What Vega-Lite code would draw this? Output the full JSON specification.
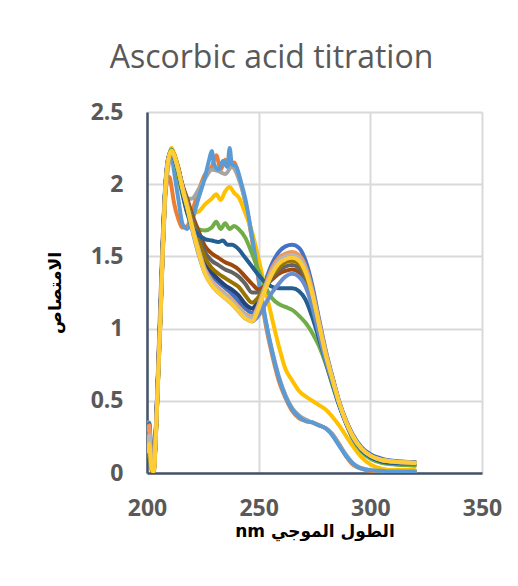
{
"$schema": "https://vega.github.io/schema/vega-lite/v6.json",
"width": 335, "height": 361,
"autosize": {"type": "none"},
"padding": {"left": 147, "top": 112, "right": 36, "bottom": 113},
"background": "white",
"title": {"text": "Ascorbic acid titration", "font": "Open Sans", "fontSize": 32, "fontWeight": "normal", "color": "#595959", "anchor": "middle", "frame": "group", "dx": -43, "baseline": "alphabetic", "offset": 1},
"config": {"view": {"stroke": null}},
"data": {"values": [
{"nm":200,"s":"1","a":0.2},{"nm":201,"s":"1","a":0.28},{"nm":202,"s":"1","a":0.06},{"nm":203,"s":"1","a":0.02},{"nm":204,"s":"1","a":0.28},{"nm":205,"s":"1","a":0.68},{"nm":206,"s":"1","a":1.08},{"nm":207,"s":"1","a":1.53},{"nm":208,"s":"1","a":1.9},{"nm":209,"s":"1","a":2.11},{"nm":210,"s":"1","a":2.2},{"nm":211,"s":"1","a":2.23},{"nm":212,"s":"1","a":2.2},
{"nm":214,"s":"1","a":2.1},{"nm":216,"s":"1","a":1.97},{"nm":218,"s":"1","a":1.86},{"nm":220,"s":"1","a":1.73},{"nm":223,"s":"1","a":1.57},{"nm":226,"s":"1","a":1.44},{"nm":229,"s":"1","a":1.37},{"nm":232,"s":"1","a":1.32},{"nm":235,"s":"1","a":1.28},{"nm":238,"s":"1","a":1.24},{"nm":241,"s":"1","a":1.19},{"nm":244,"s":"1","a":1.14},{"nm":247,"s":"1","a":1.11},{"nm":250,"s":"1","a":1.2},{"nm":253,"s":"1","a":1.33},{"nm":256,"s":"1","a":1.45},{"nm":259,"s":"1","a":1.53},{"nm":262,"s":"1","a":1.57},{"nm":265,"s":"1","a":1.58},{"nm":268,"s":"1","a":1.56},{"nm":271,"s":"1","a":1.47},{"nm":274,"s":"1","a":1.3},{"nm":277,"s":"1","a":1.07},{"nm":280,"s":"1","a":0.85},{"nm":283,"s":"1","a":0.67},{"nm":286,"s":"1","a":0.5},{"nm":289,"s":"1","a":0.37},{"nm":292,"s":"1","a":0.27},{"nm":296,"s":"1","a":0.18},{"nm":300,"s":"1","a":0.13},{"nm":305,"s":"1","a":0.1},{"nm":310,"s":"1","a":0.085},{"nm":320,"s":"1","a":0.075},

{"nm":200,"s":"2","a":0.35},{"nm":201,"s":"2","a":0.3},{"nm":202,"s":"2","a":0.05},{"nm":203,"s":"2","a":0.02},{"nm":204,"s":"2","a":0.32},{"nm":205,"s":"2","a":0.75},{"nm":206,"s":"2","a":1.2},{"nm":207,"s":"2","a":1.62},{"nm":208,"s":"2","a":1.9},{"nm":209,"s":"2","a":2.02},{"nm":210,"s":"2","a":2.05},{"nm":211,"s":"2","a":1.98},{"nm":212,"s":"2","a":1.88},
{"nm":214,"s":"2","a":1.76},{"nm":216,"s":"2","a":1.7},{"nm":218,"s":"2","a":1.71},{"nm":220,"s":"2","a":1.8},{"nm":223,"s":"2","a":1.95},{"nm":226,"s":"2","a":2.07},{"nm":229,"s":"2","a":2.12},{"nm":231,"s":"2","a":2.2},{"nm":233,"s":"2","a":2.1},{"nm":235,"s":"2","a":2.17},{"nm":237,"s":"2","a":2.12},{"nm":239,"s":"2","a":2.15},{"nm":241,"s":"2","a":2.06},{"nm":244,"s":"2","a":1.88},{"nm":247,"s":"2","a":1.62},{"nm":250,"s":"2","a":1.33},{"nm":253,"s":"2","a":1.04},{"nm":256,"s":"2","a":0.82},{"nm":259,"s":"2","a":0.64},{"nm":262,"s":"2","a":0.52},{"nm":265,"s":"2","a":0.43},{"nm":268,"s":"2","a":0.38},{"nm":271,"s":"2","a":0.36},{"nm":274,"s":"2","a":0.35},{"nm":277,"s":"2","a":0.33},{"nm":280,"s":"2","a":0.31},{"nm":283,"s":"2","a":0.27},{"nm":286,"s":"2","a":0.2},{"nm":289,"s":"2","a":0.12},{"nm":292,"s":"2","a":0.06},{"nm":296,"s":"2","a":0.03},{"nm":300,"s":"2","a":0.015},{"nm":305,"s":"2","a":0.01},{"nm":310,"s":"2","a":0.01},{"nm":320,"s":"2","a":0.01},

{"nm":200,"s":"3","a":0.3},{"nm":201,"s":"3","a":0.32},{"nm":202,"s":"3","a":0.08},{"nm":203,"s":"3","a":0.03},{"nm":204,"s":"3","a":0.28},{"nm":205,"s":"3","a":0.66},{"nm":206,"s":"3","a":1.04},{"nm":207,"s":"3","a":1.48},{"nm":208,"s":"3","a":1.85},{"nm":209,"s":"3","a":2.06},{"nm":210,"s":"3","a":2.16},{"nm":211,"s":"3","a":2.2},{"nm":212,"s":"3","a":2.19},
{"nm":214,"s":"3","a":2.12},{"nm":216,"s":"3","a":1.96},{"nm":218,"s":"3","a":1.9},{"nm":220,"s":"3","a":1.9},{"nm":223,"s":"3","a":1.96},{"nm":226,"s":"3","a":2.04},{"nm":229,"s":"3","a":2.1},{"nm":232,"s":"3","a":2.09},{"nm":235,"s":"3","a":2.07},{"nm":238,"s":"3","a":2.12},{"nm":241,"s":"3","a":2.04},{"nm":244,"s":"3","a":1.88},{"nm":247,"s":"3","a":1.63},{"nm":250,"s":"3","a":1.34},{"nm":253,"s":"3","a":1.06},{"nm":256,"s":"3","a":0.85},{"nm":259,"s":"3","a":0.67},{"nm":262,"s":"3","a":0.54},{"nm":265,"s":"3","a":0.45},{"nm":268,"s":"3","a":0.4},{"nm":271,"s":"3","a":0.37},{"nm":274,"s":"3","a":0.35},{"nm":277,"s":"3","a":0.33},{"nm":280,"s":"3","a":0.31},{"nm":283,"s":"3","a":0.27},{"nm":286,"s":"3","a":0.2},{"nm":289,"s":"3","a":0.13},{"nm":292,"s":"3","a":0.07},{"nm":296,"s":"3","a":0.035},{"nm":300,"s":"3","a":0.02},{"nm":305,"s":"3","a":0.015},{"nm":310,"s":"3","a":0.012},{"nm":320,"s":"3","a":0.012},

{"nm":200,"s":"4","a":0.18},{"nm":201,"s":"4","a":0.22},{"nm":202,"s":"4","a":0.04},{"nm":203,"s":"4","a":0.02},{"nm":204,"s":"4","a":0.25},{"nm":205,"s":"4","a":0.65},{"nm":206,"s":"4","a":1.05},{"nm":207,"s":"4","a":1.5},{"nm":208,"s":"4","a":1.88},{"nm":209,"s":"4","a":2.1},{"nm":210,"s":"4","a":2.2},{"nm":211,"s":"4","a":2.25},{"nm":212,"s":"4","a":2.22},
{"nm":214,"s":"4","a":2.12},{"nm":216,"s":"4","a":1.96},{"nm":218,"s":"4","a":1.86},{"nm":220,"s":"4","a":1.8},{"nm":223,"s":"4","a":1.81},{"nm":226,"s":"4","a":1.86},{"nm":229,"s":"4","a":1.9},{"nm":231,"s":"4","a":1.93},{"nm":233,"s":"4","a":1.89},{"nm":235,"s":"4","a":1.95},{"nm":237,"s":"4","a":1.98},{"nm":239,"s":"4","a":1.94},{"nm":241,"s":"4","a":1.91},{"nm":244,"s":"4","a":1.8},{"nm":247,"s":"4","a":1.67},{"nm":250,"s":"4","a":1.48},{"nm":253,"s":"4","a":1.27},{"nm":256,"s":"4","a":1.07},{"nm":259,"s":"4","a":0.88},{"nm":262,"s":"4","a":0.72},{"nm":265,"s":"4","a":0.64},{"nm":268,"s":"4","a":0.57},{"nm":271,"s":"4","a":0.53},{"nm":274,"s":"4","a":0.5},{"nm":277,"s":"4","a":0.47},{"nm":280,"s":"4","a":0.44},{"nm":283,"s":"4","a":0.39},{"nm":286,"s":"4","a":0.33},{"nm":289,"s":"4","a":0.26},{"nm":292,"s":"4","a":0.19},{"nm":296,"s":"4","a":0.11},{"nm":300,"s":"4","a":0.06},{"nm":305,"s":"4","a":0.03},{"nm":310,"s":"4","a":0.02},{"nm":320,"s":"4","a":0.02},

{"nm":200,"s":"5","a":0.32},{"nm":201,"s":"5","a":0.35},{"nm":202,"s":"5","a":0.1},{"nm":203,"s":"5","a":0.04},{"nm":204,"s":"5","a":0.33},{"nm":205,"s":"5","a":0.74},{"nm":206,"s":"5","a":1.15},{"nm":207,"s":"5","a":1.6},{"nm":208,"s":"5","a":1.95},{"nm":209,"s":"5","a":2.14},{"nm":210,"s":"5","a":2.2},{"nm":211,"s":"5","a":2.2},{"nm":212,"s":"5","a":2.1},
{"nm":214,"s":"5","a":1.9},{"nm":216,"s":"5","a":1.72},{"nm":218,"s":"5","a":1.69},{"nm":220,"s":"5","a":1.74},{"nm":223,"s":"5","a":1.9},{"nm":226,"s":"5","a":2.05},{"nm":228,"s":"5","a":2.18},{"nm":229,"s":"5","a":2.23},{"nm":230,"s":"5","a":2.14},{"nm":232,"s":"5","a":2.1},{"nm":234,"s":"5","a":2.16},{"nm":236,"s":"5","a":2.12},{"nm":237,"s":"5","a":2.25},{"nm":238,"s":"5","a":2.14},{"nm":240,"s":"5","a":2.12},{"nm":242,"s":"5","a":2.02},{"nm":244,"s":"5","a":1.9},{"nm":247,"s":"5","a":1.64},{"nm":250,"s":"5","a":1.35},{"nm":253,"s":"5","a":1.07},{"nm":256,"s":"5","a":0.84},{"nm":259,"s":"5","a":0.66},{"nm":262,"s":"5","a":0.53},{"nm":265,"s":"5","a":0.44},{"nm":268,"s":"5","a":0.39},{"nm":271,"s":"5","a":0.36},{"nm":274,"s":"5","a":0.35},{"nm":277,"s":"5","a":0.33},{"nm":280,"s":"5","a":0.31},{"nm":283,"s":"5","a":0.26},{"nm":286,"s":"5","a":0.19},{"nm":289,"s":"5","a":0.12},{"nm":292,"s":"5","a":0.07},{"nm":296,"s":"5","a":0.03},{"nm":300,"s":"5","a":0.02},{"nm":305,"s":"5","a":0.015},{"nm":310,"s":"5","a":0.01},{"nm":320,"s":"5","a":0.01},

{"nm":200,"s":"6","a":0.15},{"nm":201,"s":"6","a":0.2},{"nm":202,"s":"6","a":0.05},{"nm":203,"s":"6","a":0.03},{"nm":204,"s":"6","a":0.28},{"nm":205,"s":"6","a":0.68},{"nm":206,"s":"6","a":1.08},{"nm":207,"s":"6","a":1.53},{"nm":208,"s":"6","a":1.9},{"nm":209,"s":"6","a":2.12},{"nm":210,"s":"6","a":2.21},{"nm":211,"s":"6","a":2.24},{"nm":212,"s":"6","a":2.2},
{"nm":214,"s":"6","a":2.05},{"nm":216,"s":"6","a":1.92},{"nm":218,"s":"6","a":1.8},{"nm":220,"s":"6","a":1.73},{"nm":223,"s":"6","a":1.69},{"nm":226,"s":"6","a":1.68},{"nm":229,"s":"6","a":1.7},{"nm":231,"s":"6","a":1.74},{"nm":233,"s":"6","a":1.69},{"nm":235,"s":"6","a":1.73},{"nm":237,"s":"6","a":1.69},{"nm":239,"s":"6","a":1.71},{"nm":241,"s":"6","a":1.69},{"nm":244,"s":"6","a":1.63},{"nm":247,"s":"6","a":1.52},{"nm":250,"s":"6","a":1.4},{"nm":253,"s":"6","a":1.29},{"nm":256,"s":"6","a":1.21},{"nm":259,"s":"6","a":1.17},{"nm":262,"s":"6","a":1.15},{"nm":265,"s":"6","a":1.13},{"nm":268,"s":"6","a":1.09},{"nm":271,"s":"6","a":1.04},{"nm":274,"s":"6","a":0.97},{"nm":277,"s":"6","a":0.88},{"nm":280,"s":"6","a":0.76},{"nm":283,"s":"6","a":0.61},{"nm":286,"s":"6","a":0.47},{"nm":289,"s":"6","a":0.35},{"nm":292,"s":"6","a":0.24},{"nm":296,"s":"6","a":0.15},{"nm":300,"s":"6","a":0.1},{"nm":305,"s":"6","a":0.07},{"nm":310,"s":"6","a":0.06},{"nm":320,"s":"6","a":0.05},

{"nm":200,"s":"7","a":0.25},{"nm":201,"s":"7","a":0.3},{"nm":202,"s":"7","a":0.08},{"nm":203,"s":"7","a":0.03},{"nm":204,"s":"7","a":0.3},{"nm":205,"s":"7","a":0.7},{"nm":206,"s":"7","a":1.1},{"nm":207,"s":"7","a":1.55},{"nm":208,"s":"7","a":1.92},{"nm":209,"s":"7","a":2.12},{"nm":210,"s":"7","a":2.2},{"nm":211,"s":"7","a":2.23},{"nm":212,"s":"7","a":2.2},
{"nm":214,"s":"7","a":2.1},{"nm":216,"s":"7","a":1.97},{"nm":218,"s":"7","a":1.87},{"nm":220,"s":"7","a":1.74},{"nm":223,"s":"7","a":1.58},{"nm":226,"s":"7","a":1.46},{"nm":229,"s":"7","a":1.39},{"nm":232,"s":"7","a":1.34},{"nm":235,"s":"7","a":1.3},{"nm":238,"s":"7","a":1.27},{"nm":241,"s":"7","a":1.23},{"nm":244,"s":"7","a":1.17},{"nm":247,"s":"7","a":1.14},{"nm":250,"s":"7","a":1.2},{"nm":253,"s":"7","a":1.3},{"nm":256,"s":"7","a":1.39},{"nm":259,"s":"7","a":1.45},{"nm":262,"s":"7","a":1.49},{"nm":265,"s":"7","a":1.5},{"nm":268,"s":"7","a":1.48},{"nm":271,"s":"7","a":1.4},{"nm":274,"s":"7","a":1.24},{"nm":277,"s":"7","a":1.03},{"nm":280,"s":"7","a":0.82},{"nm":283,"s":"7","a":0.66},{"nm":286,"s":"7","a":0.49},{"nm":289,"s":"7","a":0.36},{"nm":292,"s":"7","a":0.26},{"nm":296,"s":"7","a":0.17},{"nm":300,"s":"7","a":0.12},{"nm":305,"s":"7","a":0.09},{"nm":310,"s":"7","a":0.08},{"nm":320,"s":"7","a":0.07},

{"nm":200,"s":"8","a":0.22},{"nm":201,"s":"8","a":0.28},{"nm":202,"s":"8","a":0.07},{"nm":203,"s":"8","a":0.03},{"nm":204,"s":"8","a":0.29},{"nm":205,"s":"8","a":0.69},{"nm":206,"s":"8","a":1.09},{"nm":207,"s":"8","a":1.54},{"nm":208,"s":"8","a":1.91},{"nm":209,"s":"8","a":2.12},{"nm":210,"s":"8","a":2.2},{"nm":211,"s":"8","a":2.23},{"nm":212,"s":"8","a":2.21},
{"nm":214,"s":"8","a":2.11},{"nm":216,"s":"8","a":1.99},{"nm":218,"s":"8","a":1.9},{"nm":220,"s":"8","a":1.8},{"nm":223,"s":"8","a":1.68},{"nm":226,"s":"8","a":1.57},{"nm":229,"s":"8","a":1.52},{"nm":232,"s":"8","a":1.49},{"nm":235,"s":"8","a":1.46},{"nm":238,"s":"8","a":1.44},{"nm":241,"s":"8","a":1.41},{"nm":244,"s":"8","a":1.36},{"nm":247,"s":"8","a":1.31},{"nm":250,"s":"8","a":1.27},{"nm":253,"s":"8","a":1.3},{"nm":256,"s":"8","a":1.34},{"nm":259,"s":"8","a":1.38},{"nm":262,"s":"8","a":1.4},{"nm":265,"s":"8","a":1.41},{"nm":268,"s":"8","a":1.39},{"nm":271,"s":"8","a":1.31},{"nm":274,"s":"8","a":1.17},{"nm":277,"s":"8","a":0.97},{"nm":280,"s":"8","a":0.79},{"nm":283,"s":"8","a":0.64},{"nm":286,"s":"8","a":0.48},{"nm":289,"s":"8","a":0.35},{"nm":292,"s":"8","a":0.25},{"nm":296,"s":"8","a":0.17},{"nm":300,"s":"8","a":0.12},{"nm":305,"s":"8","a":0.09},{"nm":310,"s":"8","a":0.08},{"nm":320,"s":"8","a":0.07},

{"nm":200,"s":"9","a":0.28},{"nm":201,"s":"9","a":0.3},{"nm":202,"s":"9","a":0.09},{"nm":203,"s":"9","a":0.04},{"nm":204,"s":"9","a":0.31},{"nm":205,"s":"9","a":0.71},{"nm":206,"s":"9","a":1.11},{"nm":207,"s":"9","a":1.56},{"nm":208,"s":"9","a":1.93},{"nm":209,"s":"9","a":2.13},{"nm":210,"s":"9","a":2.21},{"nm":211,"s":"9","a":2.23},{"nm":212,"s":"9","a":2.2},
{"nm":214,"s":"9","a":2.11},{"nm":216,"s":"9","a":1.98},{"nm":218,"s":"9","a":1.89},{"nm":220,"s":"9","a":1.78},{"nm":223,"s":"9","a":1.65},{"nm":226,"s":"9","a":1.53},{"nm":229,"s":"9","a":1.47},{"nm":232,"s":"9","a":1.44},{"nm":235,"s":"9","a":1.41},{"nm":238,"s":"9","a":1.39},{"nm":241,"s":"9","a":1.36},{"nm":244,"s":"9","a":1.31},{"nm":247,"s":"9","a":1.25},{"nm":250,"s":"9","a":1.25},{"nm":253,"s":"9","a":1.29},{"nm":256,"s":"9","a":1.35},{"nm":259,"s":"9","a":1.4},{"nm":262,"s":"9","a":1.43},{"nm":265,"s":"9","a":1.44},{"nm":268,"s":"9","a":1.42},{"nm":271,"s":"9","a":1.34},{"nm":274,"s":"9","a":1.19},{"nm":277,"s":"9","a":0.99},{"nm":280,"s":"9","a":0.8},{"nm":283,"s":"9","a":0.65},{"nm":286,"s":"9","a":0.49},{"nm":289,"s":"9","a":0.36},{"nm":292,"s":"9","a":0.26},{"nm":296,"s":"9","a":0.17},{"nm":300,"s":"9","a":0.12},{"nm":305,"s":"9","a":0.09},{"nm":310,"s":"9","a":0.08},{"nm":320,"s":"9","a":0.07},

{"nm":200,"s":"10","a":0.12},{"nm":201,"s":"10","a":0.18},{"nm":202,"s":"10","a":0.02},{"nm":203,"s":"10","a":0.0},{"nm":204,"s":"10","a":0.26},{"nm":205,"s":"10","a":0.67},{"nm":206,"s":"10","a":1.07},{"nm":207,"s":"10","a":1.52},{"nm":208,"s":"10","a":1.9},{"nm":209,"s":"10","a":2.11},{"nm":210,"s":"10","a":2.2},{"nm":211,"s":"10","a":2.23},{"nm":212,"s":"10","a":2.21},
{"nm":214,"s":"10","a":2.1},{"nm":216,"s":"10","a":1.98},{"nm":218,"s":"10","a":1.88},{"nm":220,"s":"10","a":1.76},{"nm":223,"s":"10","a":1.61},{"nm":226,"s":"10","a":1.49},{"nm":229,"s":"10","a":1.42},{"nm":232,"s":"10","a":1.38},{"nm":235,"s":"10","a":1.35},{"nm":238,"s":"10","a":1.32},{"nm":241,"s":"10","a":1.29},{"nm":244,"s":"10","a":1.23},{"nm":247,"s":"10","a":1.18},{"nm":250,"s":"10","a":1.22},{"nm":253,"s":"10","a":1.29},{"nm":256,"s":"10","a":1.37},{"nm":259,"s":"10","a":1.42},{"nm":262,"s":"10","a":1.46},{"nm":265,"s":"10","a":1.47},{"nm":268,"s":"10","a":1.45},{"nm":271,"s":"10","a":1.37},{"nm":274,"s":"10","a":1.22},{"nm":277,"s":"10","a":1.01},{"nm":280,"s":"10","a":0.81},{"nm":283,"s":"10","a":0.65},{"nm":286,"s":"10","a":0.49},{"nm":289,"s":"10","a":0.36},{"nm":292,"s":"10","a":0.26},{"nm":296,"s":"10","a":0.17},{"nm":300,"s":"10","a":0.12},{"nm":305,"s":"10","a":0.09},{"nm":310,"s":"10","a":0.08},{"nm":320,"s":"10","a":0.07},

{"nm":200,"s":"11","a":0.3},{"nm":201,"s":"11","a":0.34},{"nm":202,"s":"11","a":0.1},{"nm":203,"s":"11","a":0.04},{"nm":204,"s":"11","a":0.31},{"nm":205,"s":"11","a":0.71},{"nm":206,"s":"11","a":1.11},{"nm":207,"s":"11","a":1.56},{"nm":208,"s":"11","a":1.93},{"nm":209,"s":"11","a":2.12},{"nm":210,"s":"11","a":2.2},{"nm":211,"s":"11","a":2.22},{"nm":212,"s":"11","a":2.19},
{"nm":214,"s":"11","a":2.08},{"nm":216,"s":"11","a":1.93},{"nm":218,"s":"11","a":1.8},{"nm":220,"s":"11","a":1.71},{"nm":223,"s":"11","a":1.65},{"nm":226,"s":"11","a":1.62},{"nm":229,"s":"11","a":1.61},{"nm":232,"s":"11","a":1.6},{"nm":234,"s":"11","a":1.61},{"nm":236,"s":"11","a":1.58},{"nm":238,"s":"11","a":1.58},{"nm":241,"s":"11","a":1.55},{"nm":244,"s":"11","a":1.49},{"nm":247,"s":"11","a":1.43},{"nm":250,"s":"11","a":1.37},{"nm":253,"s":"11","a":1.32},{"nm":256,"s":"11","a":1.29},{"nm":259,"s":"11","a":1.28},{"nm":262,"s":"11","a":1.28},{"nm":265,"s":"11","a":1.28},{"nm":268,"s":"11","a":1.26},{"nm":271,"s":"11","a":1.2},{"nm":274,"s":"11","a":1.08},{"nm":277,"s":"11","a":0.93},{"nm":280,"s":"11","a":0.77},{"nm":283,"s":"11","a":0.62},{"nm":286,"s":"11","a":0.47},{"nm":289,"s":"11","a":0.35},{"nm":292,"s":"11","a":0.25},{"nm":296,"s":"11","a":0.16},{"nm":300,"s":"11","a":0.11},{"nm":305,"s":"11","a":0.08},{"nm":310,"s":"11","a":0.07},{"nm":320,"s":"11","a":0.065},

{"nm":200,"s":"13","a":0.25},{"nm":201,"s":"13","a":0.3},{"nm":202,"s":"13","a":0.08},{"nm":203,"s":"13","a":0.03},{"nm":204,"s":"13","a":0.3},{"nm":205,"s":"13","a":0.7},{"nm":206,"s":"13","a":1.1},{"nm":207,"s":"13","a":1.55},{"nm":208,"s":"13","a":1.92},{"nm":209,"s":"13","a":2.12},{"nm":210,"s":"13","a":2.2},{"nm":211,"s":"13","a":2.22},{"nm":212,"s":"13","a":2.2},
{"nm":214,"s":"13","a":2.09},{"nm":216,"s":"13","a":1.96},{"nm":218,"s":"13","a":1.84},{"nm":220,"s":"13","a":1.7},{"nm":223,"s":"13","a":1.52},{"nm":226,"s":"13","a":1.38},{"nm":229,"s":"13","a":1.3},{"nm":232,"s":"13","a":1.25},{"nm":235,"s":"13","a":1.21},{"nm":238,"s":"13","a":1.17},{"nm":241,"s":"13","a":1.12},{"nm":244,"s":"13","a":1.07},{"nm":247,"s":"13","a":1.05},{"nm":250,"s":"13","a":1.09},{"nm":253,"s":"13","a":1.17},{"nm":256,"s":"13","a":1.25},{"nm":259,"s":"13","a":1.31},{"nm":262,"s":"13","a":1.36},{"nm":265,"s":"13","a":1.38},{"nm":268,"s":"13","a":1.36},{"nm":271,"s":"13","a":1.29},{"nm":274,"s":"13","a":1.15},{"nm":277,"s":"13","a":0.96},{"nm":280,"s":"13","a":0.78},{"nm":283,"s":"13","a":0.63},{"nm":286,"s":"13","a":0.48},{"nm":289,"s":"13","a":0.35},{"nm":292,"s":"13","a":0.25},{"nm":296,"s":"13","a":0.17},{"nm":300,"s":"13","a":0.12},{"nm":305,"s":"13","a":0.09},{"nm":310,"s":"13","a":0.08},{"nm":320,"s":"13","a":0.075},

{"nm":200,"s":"14","a":0.3},{"nm":201,"s":"14","a":0.33},{"nm":202,"s":"14","a":0.07},{"nm":203,"s":"14","a":0.02},{"nm":204,"s":"14","a":0.29},{"nm":205,"s":"14","a":0.69},{"nm":206,"s":"14","a":1.09},{"nm":207,"s":"14","a":1.54},{"nm":208,"s":"14","a":1.91},{"nm":209,"s":"14","a":2.12},{"nm":210,"s":"14","a":2.2},{"nm":211,"s":"14","a":2.23},{"nm":212,"s":"14","a":2.2},
{"nm":214,"s":"14","a":2.1},{"nm":216,"s":"14","a":1.97},{"nm":218,"s":"14","a":1.85},{"nm":220,"s":"14","a":1.72},{"nm":223,"s":"14","a":1.55},{"nm":226,"s":"14","a":1.41},{"nm":229,"s":"14","a":1.33},{"nm":232,"s":"14","a":1.28},{"nm":235,"s":"14","a":1.24},{"nm":238,"s":"14","a":1.2},{"nm":241,"s":"14","a":1.15},{"nm":244,"s":"14","a":1.1},{"nm":247,"s":"14","a":1.08},{"nm":250,"s":"14","a":1.17},{"nm":253,"s":"14","a":1.3},{"nm":256,"s":"14","a":1.42},{"nm":259,"s":"14","a":1.49},{"nm":262,"s":"14","a":1.52},{"nm":265,"s":"14","a":1.53},{"nm":268,"s":"14","a":1.51},{"nm":271,"s":"14","a":1.43},{"nm":274,"s":"14","a":1.27},{"nm":277,"s":"14","a":1.05},{"nm":280,"s":"14","a":0.84},{"nm":283,"s":"14","a":0.66},{"nm":286,"s":"14","a":0.49},{"nm":289,"s":"14","a":0.36},{"nm":292,"s":"14","a":0.26},{"nm":296,"s":"14","a":0.17},{"nm":300,"s":"14","a":0.12},{"nm":305,"s":"14","a":0.09},{"nm":310,"s":"14","a":0.08},{"nm":320,"s":"14","a":0.07},

{"nm":200,"s":"15","a":0.22},{"nm":201,"s":"15","a":0.26},{"nm":202,"s":"15","a":0.06},{"nm":203,"s":"15","a":0.02},{"nm":204,"s":"15","a":0.28},{"nm":205,"s":"15","a":0.68},{"nm":206,"s":"15","a":1.08},{"nm":207,"s":"15","a":1.53},{"nm":208,"s":"15","a":1.9},{"nm":209,"s":"15","a":2.11},{"nm":210,"s":"15","a":2.2},{"nm":211,"s":"15","a":2.23},{"nm":212,"s":"15","a":2.2},
{"nm":214,"s":"15","a":2.1},{"nm":216,"s":"15","a":1.97},{"nm":218,"s":"15","a":1.85},{"nm":220,"s":"15","a":1.72},{"nm":223,"s":"15","a":1.55},{"nm":226,"s":"15","a":1.4},{"nm":229,"s":"15","a":1.32},{"nm":232,"s":"15","a":1.27},{"nm":235,"s":"15","a":1.23},{"nm":238,"s":"15","a":1.19},{"nm":241,"s":"15","a":1.14},{"nm":244,"s":"15","a":1.09},{"nm":247,"s":"15","a":1.07},{"nm":250,"s":"15","a":1.16},{"nm":253,"s":"15","a":1.29},{"nm":256,"s":"15","a":1.4},{"nm":259,"s":"15","a":1.47},{"nm":262,"s":"15","a":1.5},{"nm":265,"s":"15","a":1.51},{"nm":268,"s":"15","a":1.49},{"nm":271,"s":"15","a":1.41},{"nm":274,"s":"15","a":1.25},{"nm":277,"s":"15","a":1.04},{"nm":280,"s":"15","a":0.83},{"nm":283,"s":"15","a":0.66},{"nm":286,"s":"15","a":0.49},{"nm":289,"s":"15","a":0.36},{"nm":292,"s":"15","a":0.26},{"nm":296,"s":"15","a":0.17},{"nm":300,"s":"15","a":0.12},{"nm":305,"s":"15","a":0.09},{"nm":310,"s":"15","a":0.08},{"nm":320,"s":"15","a":0.07},

{"nm":200,"s":"16","a":0.15},{"nm":201,"s":"16","a":0.2},{"nm":202,"s":"16","a":0.03},{"nm":203,"s":"16","a":0.01},{"nm":204,"s":"16","a":0.27},{"nm":205,"s":"16","a":0.67},{"nm":206,"s":"16","a":1.07},{"nm":207,"s":"16","a":1.52},{"nm":208,"s":"16","a":1.9},{"nm":209,"s":"16","a":2.11},{"nm":210,"s":"16","a":2.2},{"nm":211,"s":"16","a":2.23},{"nm":212,"s":"16","a":2.21},
{"nm":214,"s":"16","a":2.1},{"nm":216,"s":"16","a":1.96},{"nm":218,"s":"16","a":1.84},{"nm":220,"s":"16","a":1.71},{"nm":223,"s":"16","a":1.53},{"nm":226,"s":"16","a":1.38},{"nm":229,"s":"16","a":1.3},{"nm":232,"s":"16","a":1.25},{"nm":235,"s":"16","a":1.21},{"nm":238,"s":"16","a":1.17},{"nm":241,"s":"16","a":1.12},{"nm":244,"s":"16","a":1.07},{"nm":247,"s":"16","a":1.05},{"nm":250,"s":"16","a":1.14},{"nm":253,"s":"16","a":1.27},{"nm":256,"s":"16","a":1.38},{"nm":259,"s":"16","a":1.45},{"nm":262,"s":"16","a":1.48},{"nm":265,"s":"16","a":1.49},{"nm":268,"s":"16","a":1.47},{"nm":271,"s":"16","a":1.39},{"nm":274,"s":"16","a":1.24},{"nm":277,"s":"16","a":1.03},{"nm":280,"s":"16","a":0.82},{"nm":283,"s":"16","a":0.65},{"nm":286,"s":"16","a":0.49},{"nm":289,"s":"16","a":0.36},{"nm":292,"s":"16","a":0.26},{"nm":296,"s":"16","a":0.17},{"nm":300,"s":"16","a":0.12},{"nm":305,"s":"16","a":0.09},{"nm":310,"s":"16","a":0.08},{"nm":320,"s":"16","a":0.07}
]},
"mark": {"type": "line", "strokeWidth": 4, "interpolate": "monotone", "strokeCap": "round", "strokeJoin": "round", "clip": true},
"encoding": {
  "x": {"field": "nm", "type": "quantitative",
    "scale": {"domain": [200, 350], "nice": false, "zero": false},
    "axis": {"values": [200, 250, 300, 350], "format": "d", "title": "nm الطول الموجي",
      "titleFont": "DejaVu Sans", "titleFontSize": 17, "titleFontWeight": "bold", "titleColor": "#000000", "titlePadding": 3,
      "labelFont": "Open Sans", "labelFontSize": 23, "labelFontWeight": "bold", "labelColor": "#595959", "labelPadding": 24, "labelFlush": false,
      "ticks": false, "domainColor": "#44546A", "domainWidth": 2.5, "gridColor": "#D9D9D9", "gridWidth": 2}},
  "y": {"field": "a", "type": "quantitative",
    "scale": {"domain": [0, 2.5], "nice": false},
    "axis": {"values": [0, 0.5, 1, 1.5, 2, 2.5], "format": "~g", "title": "الامتصاص",
      "titleFont": "DejaVu Sans", "titleFontSize": 17, "titleFontWeight": "bold", "titleColor": "#000000", "titlePadding": 26,
      "labelFont": "Open Sans", "labelFontSize": 23, "labelFontWeight": "bold", "labelColor": "#595959", "labelPadding": 24, "labelFlush": false,
      "ticks": false, "domainColor": "#44546A", "domainWidth": 2.5, "gridColor": "#D9D9D9", "gridWidth": 2}},
  "color": {"field": "s", "type": "nominal", "legend": null,
    "scale": {"domain": ["1","2","3","4","5","6","7","8","9","10","11","13","14","15","16"],
      "range": ["#4472C4","#ED7D31","#A5A5A5","#FFC000","#5B9BD5","#70AD47","#264478","#9E480E","#636363","#997300","#255E91","#698ED0","#F1975A","#B7B7B7","#FFCD33"]}}
}
}
